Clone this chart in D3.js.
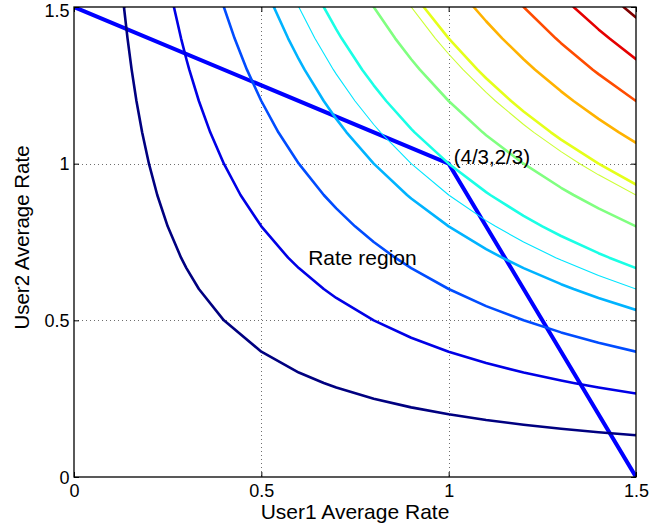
<!DOCTYPE html>
<html>
<head>
<meta charset="utf-8">
<script src="https://cdn.jsdelivr.net/npm/d3@7"></script>
<style>
  body { margin: 0; background: #fff; }
  svg { display: block; }
  text { font-family: "Liberation Sans", Arial, Helvetica, sans-serif; fill: #000; }
</style>
</head>
<body>
<svg id="chart" width="651" height="527"></svg>
<script>
// Axis ticks
const tickValues = [0, 0.5, 1, 1.5];
const tickLabels = ["0", "0.5", "1", "1.5"];
const gridValues = [0.5, 1];

// Sampling grid for the utility surface U(x, y) = x * y (0 : 0.1 : 1.5)
const gridStep = 0.1;
const gridCount = 16;

// Contour levels of the utility surface
const levelsThick = [0.2, 0.4, 0.6, 0.8, 1.0, 1.2, 1.4, 1.6, 1.8, 2.0, 2.2];
const levelsThin = [0.9, 1.35];

// Boundary of the achievable rate region
const regionX = [0, 1, 1.5];
const regionY = [1.5, 1, 0];

// Text
const cornerText = "(4/3,2/3)";
const regionText = "Rate region";
const xTitle = "User1 Average Rate";
const yTitle = "User2 Average Rate";

const svg = d3.select("#chart");
const plotL = 74, plotR = 636, plotT = 7, plotB = 477;

const x = d3.scaleLinear().domain([0, 1.5]).range([plotL, plotR]);
const y = d3.scaleLinear().domain([0, 1.5]).range([plotB, plotT]);

// jet colour map over the level range
const cMin = d3.min(levelsThick), cMax = d3.max(levelsThick);
function jet(v) {
  const t = (v - cMin) / (cMax - cMin);
  const c = a => Math.round(255 * Math.max(0, Math.min(1, a)));
  return `rgb(${c(1.5 - Math.abs(4 * t - 3))},${c(1.5 - Math.abs(4 * t - 2))},${c(1.5 - Math.abs(4 * t - 1))})`;
}

svg.append("defs").append("clipPath").attr("id", "plot-clip")
  .append("rect")
  .attr("x", plotL).attr("y", plotT)
  .attr("width", plotR - plotL).attr("height", plotB - plotT);

// Dotted grid
const grid = svg.append("g").attr("stroke", "#6e6e6e").attr("stroke-width", 1)
  .attr("stroke-dasharray", "1,3");
grid.selectAll("line.gx").data(gridValues).join("line").attr("class", "gx")
  .attr("x1", d => Math.round(x(d)) + 0.5).attr("x2", d => Math.round(x(d)) + 0.5)
  .attr("y1", plotT).attr("y2", plotB);
grid.selectAll("line.gy").data(gridValues).join("line").attr("class", "gy")
  .attr("y1", d => Math.round(y(d)) + 0.5).attr("y2", d => Math.round(y(d)) + 0.5)
  .attr("x1", plotL).attr("x2", plotR);

// Rate region boundary
const regionPts = regionX.map((v, i) => [v, regionY[i]]);
svg.append("path")
  .datum(regionPts)
  .attr("fill", "none")
  .attr("stroke", "#0000ff")
  .attr("stroke-width", 4)
  .attr("stroke-linejoin", "miter")
  .attr("clip-path", "url(#plot-clip)")
  .attr("d", d3.line().x(d => x(d[0])).y(d => y(d[1])));

// Utility surface sampled on the grid, contoured with marching squares
const values = new Array(gridCount * gridCount);
for (let j = 0; j < gridCount; j++) {
  for (let i = 0; i < gridCount; i++) {
    values[j * gridCount + i] = (i / 10) * (j / 10);
  }
}
const toPlot = d3.geoTransform({
  point(gx, gy) {
    this.stream.point(x((gx - 0.5) * gridStep), y((gy - 0.5) * gridStep));
  }
});
const contourPath = d3.geoPath(toPlot);

function drawLevels(levels, width) {
  const contours = d3.contours()
    .size([gridCount, gridCount])
    .thresholds(levels)(values);
  svg.append("g").attr("clip-path", "url(#plot-clip)")
    .selectAll("path").data(contours).join("path")
    .attr("fill", "none")
    .attr("stroke", d => jet(d.value))
    .attr("stroke-width", width)
    .attr("stroke-linejoin", "round")
    .attr("d", contourPath);
}
drawLevels(levelsThick, 2.6);
drawLevels(levelsThin, 1.1);

// Axes: ticks point inward on all four sides
const fontTick = 18;
const axB = svg.append("g").attr("transform", `translate(0,${plotB})`)
  .call(d3.axisBottom(x).tickValues(tickValues).tickFormat((d, i) => tickLabels[i])
    .tickSizeInner(-5).tickSizeOuter(0).tickPadding(7));
const axL = svg.append("g").attr("transform", `translate(${plotL},0)`)
  .call(d3.axisLeft(y).tickValues(tickValues).tickFormat((d, i) => tickLabels[i])
    .tickSizeInner(-5).tickSizeOuter(0).tickPadding(4.5));
const axT = svg.append("g").attr("transform", `translate(0,${plotT})`)
  .call(d3.axisTop(x).tickValues(tickValues).tickFormat("").tickSizeInner(-5).tickSizeOuter(0));
const axR = svg.append("g").attr("transform", `translate(${plotR},0)`)
  .call(d3.axisRight(y).tickValues(tickValues).tickFormat("").tickSizeInner(-5).tickSizeOuter(0));
[axB, axL, axT, axR].forEach(g => {
  g.select(".domain").remove();
  g.selectAll("line").attr("stroke", "#000").attr("stroke-width", 1);
  g.selectAll("text").attr("font-size", fontTick)
    .attr("font-family", "'Liberation Sans', Arial, Helvetica, sans-serif").attr("fill", "#000");
});
// keep the topmost y label inside the figure
axL.selectAll(".tick text").attr("dy", d => d === d3.max(tickValues) ? "0.55em" : "0.35em");

// Frame
svg.append("rect")
  .attr("x", plotL).attr("y", plotT)
  .attr("width", plotR - plotL).attr("height", plotB - plotT)
  .attr("fill", "none").attr("stroke", "#000").attr("stroke-width", 1.3);

// Annotations
svg.append("text")
  .attr("x", x(1) + 5).attr("y", y(1) + 0.5)
  .attr("font-size", 20.5)
  .text(cornerText);
svg.append("text")
  .attr("x", x(0.625)).attr("y", y(0.677))
  .attr("font-size", 21)
  .text(regionText);

// Axis titles
svg.append("text")
  .attr("x", (plotL + plotR) / 2).attr("y", 518.5)
  .attr("text-anchor", "middle").attr("font-size", 21)
  .text(xTitle);
svg.append("text")
  .attr("transform", `translate(29,${237.5}) rotate(-90)`)
  .attr("text-anchor", "middle").attr("font-size", 20.5)
  .text(yTitle);
</script>
</body>
</html>
